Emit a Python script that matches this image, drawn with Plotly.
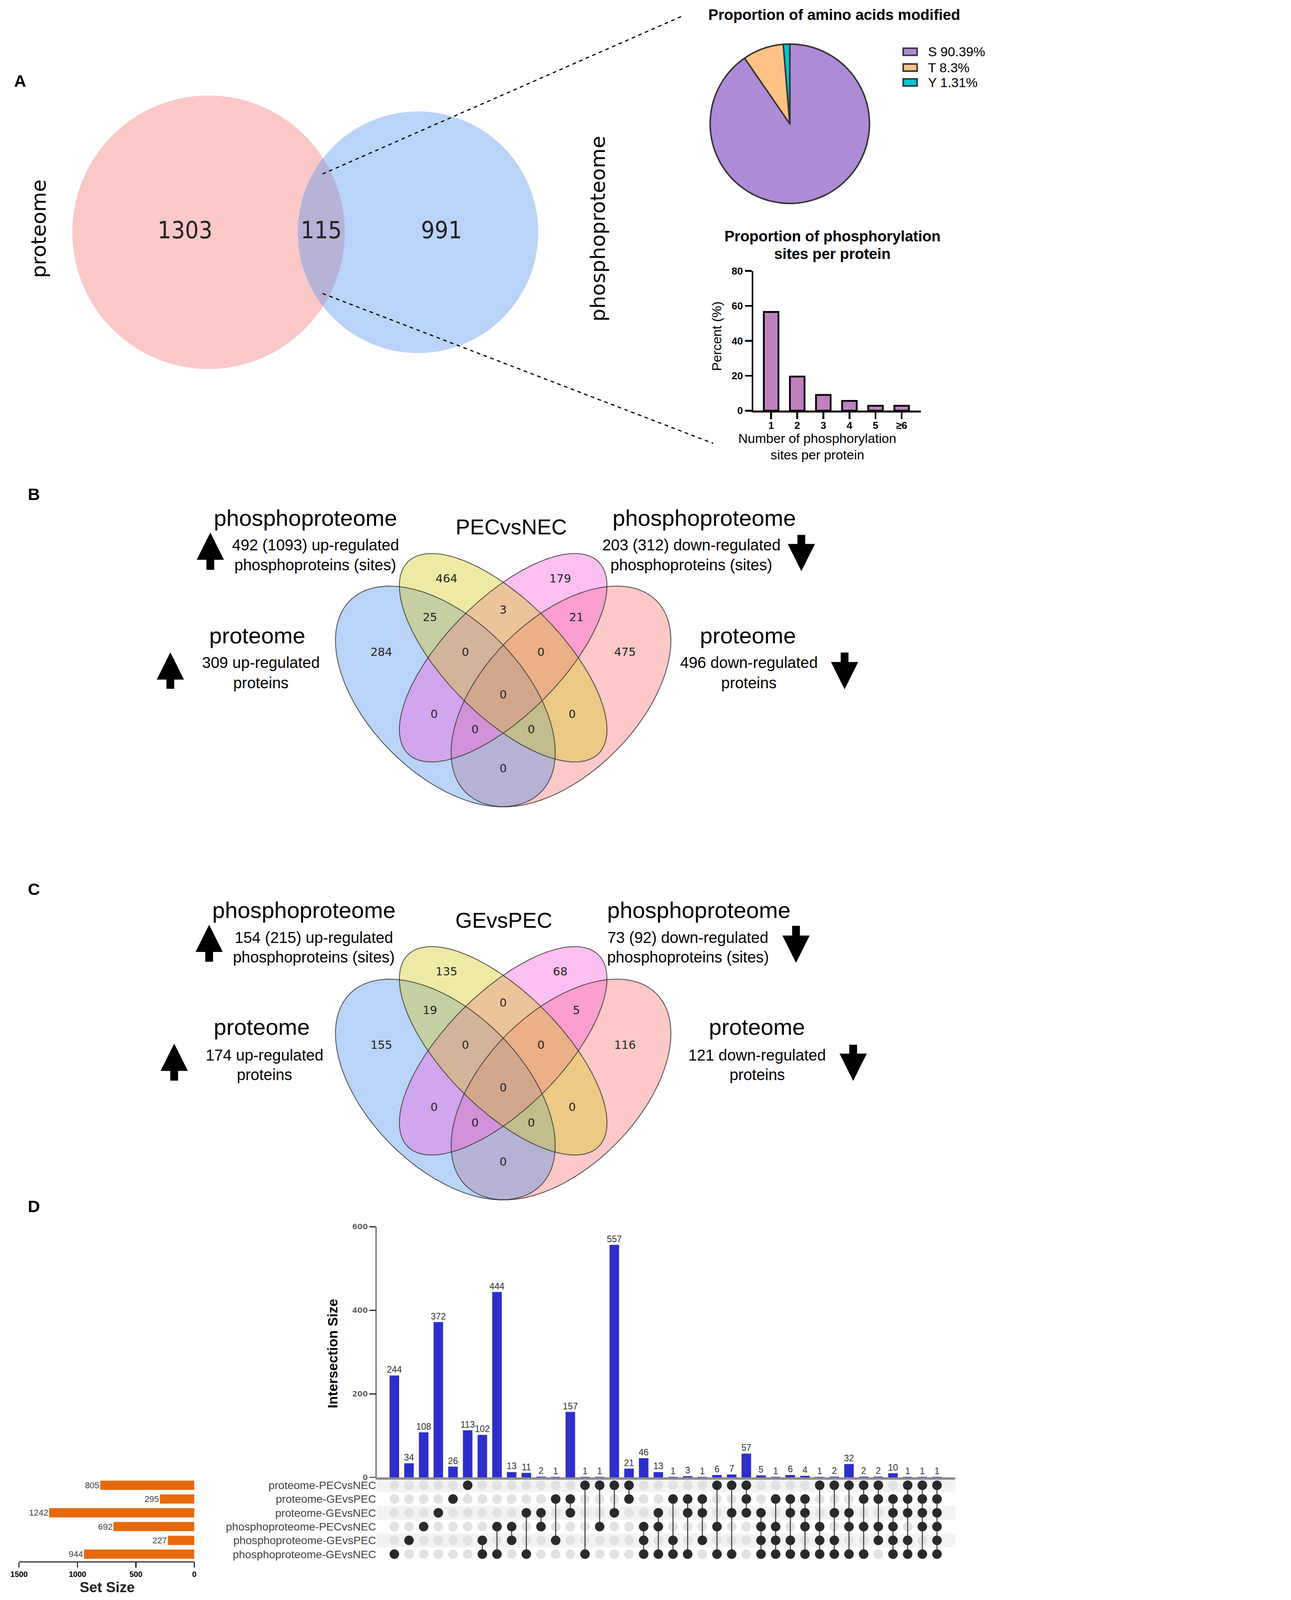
import math
import numpy as np
import plotly.graph_objects as go

W, H = 3306, 5343

# ---------------- DATA ----------------
venn_a_names = ["proteome", "phosphoproteome"]
venn_a_counts = [1303, 115, 991]          # proteome only, both, phosphoproteome only

aa_labels = ["S 90.39%", "T 8.3%", "Y 1.31%"]
aa_values = [90.39, 8.3, 1.31]
aa_colors = ["#AD8BD6", "#FFC285", "#00C6CF"]

site_bins = ["1", "2", "3", "4", "5", "≥6"]
site_percent = [56.5, 19.5, 9.0, 5.6, 2.8, 2.8]

# 4-set Venn region counts; order:
# Yonly, Ponly, Bonly, Sonly, BY, YP, PS, BYP, YPS, BYPS, BP, YS, BPS, BYS, BS
venn_b_counts = [464, 179, 284, 475, 25, 3, 21, 0, 0, 0, 0, 0, 0, 0, 0]
venn_c_counts = [135, 68, 155, 116, 19, 0, 5, 0, 0, 0, 0, 0, 0, 0, 0]
venn_b_title = "PECvsNEC"
venn_c_title = "GEvsPEC"
venn_b_notes = ["492 (1093) up-regulated", "203 (312) down-regulated",
                "309 up-regulated", "496 down-regulated"]
venn_c_notes = ["154 (215) up-regulated", "73 (92) down-regulated",
                "174 up-regulated", "121 down-regulated"]

set_names = ["proteome-PECvsNEC", "proteome-GEvsPEC", "proteome-GEvsNEC",
             "phosphoproteome-PECvsNEC", "phosphoproteome-GEvsPEC", "phosphoproteome-GEvsNEC"]
set_sizes = [805, 295, 1242, 692, 227, 944]
intersection_sizes = [244, 34, 108, 372, 26, 113, 102, 444, 13, 11, 2, 1, 157, 1, 1, 557, 21,
                      46, 13, 1, 3, 1, 6, 7, 57, 5, 1, 6, 4, 1, 2, 32, 2, 2, 10, 1, 1, 1]
intersection_members = [
    [5], [4], [3], [2], [1], [0], [4, 5], [3, 5], [3, 4], [2, 5], [2, 3], [1, 4], [1, 2],
    [0, 5], [0, 3], [0, 2], [0, 1], [3, 4, 5], [2, 3, 5], [1, 4, 5], [1, 2, 5], [1, 2, 4],
    [0, 3, 5], [0, 2, 5], [0, 1, 2], [2, 3, 4, 5], [1, 3, 4, 5], [1, 2, 4, 5], [1, 2, 3, 5],
    [0, 3, 4, 5], [0, 2, 4, 5], [0, 2, 3, 5], [0, 1, 3, 5], [0, 1, 3, 4], [1, 2, 3, 4, 5],
    [0, 1, 2, 4, 5], [0, 1, 2, 3, 5], [0, 1, 2, 3, 4, 5]]

# ---------------- helpers ----------------
SANS = "Liberation Sans, Arial, sans-serif"
DJ = "DejaVu Sans, sans-serif"


def dx(a, b):
    return [a / W, b / W]


def dy(top, bottom):
    return [1 - bottom / H, 1 - top / H]


annotations = []
shapes = []


def ann(x, y, text, size, family=SANS, color="black", weight="normal", angle=0,
        xanchor="center", yanchor="middle"):
    annotations.append(dict(x=x / W, y=1 - y / H, xref="paper", yref="paper", text=text,
                            showarrow=False, textangle=angle, xanchor=xanchor, yanchor=yanchor,
                            font=dict(family=family, size=size, color=color, weight=weight)))


def arrow(x, y_head, y_tail):
    annotations.append(dict(x=x / W, y=1 - y_head / H, xref="paper", yref="paper", text="",
                            showarrow=True, ax=0, ay=y_tail - y_head, arrowhead=2,
                            arrowwidth=26, arrowsize=0.7, arrowcolor="black"))


fig = go.Figure()

# ---------------- Panel A: two-set Venn ----------------
r1 = 460.0
n_prot = venn_a_counts[0] + venn_a_counts[1]
n_phos = venn_a_counts[2] + venn_a_counts[1]
r2 = r1 * math.sqrt(n_phos / n_prot)
target = venn_a_counts[1] / n_prot * math.pi * r1 ** 2


def lens(d):
    c1 = (d * d + r1 * r1 - r2 * r2) / (2 * d * r1)
    c2 = (d * d + r2 * r2 - r1 * r1) / (2 * d * r2)
    k = (-d + r1 + r2) * (d + r1 - r2) * (d - r1 + r2) * (d + r1 + r2)
    return r1 * r1 * math.acos(c1) + r2 * r2 * math.acos(c2) - 0.5 * math.sqrt(k)


lo, hi = r1 - r2 + 1e-6, r1 + r2 - 1e-6
for _ in range(80):
    mid = (lo + hi) / 2
    if lens(mid) > target:
        lo = mid
    else:
        hi = mid
dist = (lo + hi) / 2
c1x, cy = 675.0, 762.0
c2x = c1x + dist
t = np.linspace(0, 2 * np.pi, 300)
for cx, r, col in [(c1x, r1, "rgba(245,118,118,0.4)"), (c2x, r2, "rgba(80,148,238,0.4)")]:
    fig.add_trace(go.Scatter(x=cx + r * np.cos(t), y=cy + r * np.sin(t), mode="lines",
                             fill="toself", fillcolor=col, line=dict(width=0),
                             hoverinfo="skip", showlegend=False, xaxis="x", yaxis="y"))
lab_x = [((c1x - r1) + (c2x - r2)) / 2, ((c2x - r2) + (c1x + r1)) / 2, ((c1x + r1) + (c2x + r2)) / 2]
fig.add_trace(go.Scatter(x=lab_x, y=[cy] * 3, mode="text", text=[str(v) for v in venn_a_counts],
                         textfont=dict(family="DejaVu Sans Condensed, DejaVu Sans", size=80, color="#222"),
                         hoverinfo="skip", showlegend=False, xaxis="x", yaxis="y"))
ann(102, 750, venn_a_names[0], 68, family=DJ, angle=-90)
ann(1990, 750, venn_a_names[1], 68, family=DJ, angle=-90)

# dashed zoom lines
shapes.append(dict(type="line", xref="paper", yref="paper", x0=1060 / W, y0=1 - 566 / H,
                   x1=2277 / W, y1=1 - 34 / H, line=dict(color="black", width=4, dash="dash")))
shapes.append(dict(type="line", xref="paper", yref="paper", x0=1060 / W, y0=1 - 968 / H,
                   x1=2379 / W, y1=1 - 1472 / H, line=dict(color="black", width=4, dash="dash")))

# ---------------- Pie ----------------
fig.add_trace(go.Pie(values=aa_values, labels=aa_labels, sort=False, direction="clockwise",
                     rotation=0, textinfo="none", hoverinfo="label",
                     marker=dict(colors=aa_colors, line=dict(color="#333333", width=5)),
                     domain=dict(x=dx(2369, 2907), y=dy(128, 666)), showlegend=False))
ann(2788, 31, "Proportion of amino acids modified", 50, weight="bold")
leg_y = [155, 208, 258]
for lbl, col, yy in zip(aa_labels, aa_colors, leg_y):
    shapes.append(dict(type="rect", xref="paper", yref="paper", x0=3021 / W, x1=3068 / W,
                       y0=1 - (yy + 12) / H, y1=1 - (yy - 12) / H, fillcolor=col,
                       line=dict(color="#333333", width=5)))
    ann(3103, yy, lbl, 44, xanchor="left")

# ---------------- Bar chart: sites per protein ----------------
fig.add_trace(go.Bar(x=site_bins, y=site_percent, width=0.56,
                     marker=dict(color="#C080C0", line=dict(color="black", width=6)),
                     showlegend=False, hoverinfo="y", xaxis="x2", yaxis="y2"))
ann(2782, 776, "Proportion of phosphorylation", 50, weight="bold")
ann(2782, 835, "sites per protein", 50, weight="bold")
ann(2390, 1112, "Percent (%)", 44, angle=-90)
ann(2731, 1455, "Number of phosphorylation", 44)
ann(2731, 1510, "sites per protein", 44)

# ---------------- 4-set Venns (B, C) ----------------
ell_centers = [(0.65, 0.47), (0.35, 0.47), (0.5, 0.57), (0.5, 0.57)]   # salmon, blue, pink, yellow
ell_a = [0.35, 0.35, 0.35, 0.35]
ell_b = [0.20, 0.20, 0.15, 0.15]
ell_ang = [45, 135, 45, 135]
ell_fill = ["rgba(247,117,117,0.4)", "rgba(80,148,238,0.4)",
            "rgba(247,97,217,0.4)", "rgba(213,203,30,0.4)"]
region_pos = [(0.353, 0.772), (0.648, 0.772), (0.184, 0.582), (0.816, 0.582), (0.310, 0.672),
              (0.500, 0.691), (0.690, 0.672), (0.402, 0.582), (0.598, 0.582), (0.500, 0.472),
              (0.321, 0.422), (0.679, 0.422), (0.427, 0.382), (0.573, 0.382), (0.500, 0.281)]


def ellipse(cx, cy, a, b, ang):
    tt = np.linspace(0, 2 * np.pi, 360)
    ca, sa = math.cos(math.radians(ang)), math.sin(math.radians(ang))
    return (cx + a * np.cos(tt) * ca - b * np.sin(tt) * sa,
            cy + a * np.cos(tt) * sa + b * np.sin(tt) * ca)


def venn4(counts, xa, ya):
    for (cx, cy_), a, b, ang, col in zip(ell_centers, ell_a, ell_b, ell_ang, ell_fill):
        ex, ey = ellipse(cx, cy_, a, b, ang)
        fig.add_trace(go.Scatter(x=ex, y=ey, mode="lines", fill="toself", fillcolor=col,
                                 line=dict(width=0), hoverinfo="skip", showlegend=False,
                                 xaxis=xa, yaxis=ya))
    for (cx, cy_), a, b, ang in zip(ell_centers, ell_a, ell_b, ell_ang):
        ex, ey = ellipse(cx, cy_, a, b, ang)
        fig.add_trace(go.Scatter(x=ex, y=ey, mode="lines", line=dict(width=3, color="rgba(40,40,40,0.75)"),
                                 hoverinfo="skip", showlegend=False, xaxis=xa, yaxis=ya))
    fig.add_trace(go.Scatter(x=[p[0] for p in region_pos], y=[p[1] for p in region_pos],
                             mode="text", text=[str(v) for v in counts],
                             textfont=dict(family=DJ, size=38, color="#222"),
                             hoverinfo="skip", showlegend=False, xaxis=xa, yaxis=ya))


venn4(venn_b_counts, "x3", "y3")
venn4(venn_c_counts, "x4", "y4")

UNIT = 1302.0
VX = 1670.0
b_cy = 2193.0
c_cy = b_cy + 1322.0


def venn_dom(cy_px):
    top = cy_px - (1 - 0.57) * UNIT
    bot = cy_px + 0.57 * UNIT
    return dx(VX - 0.5 * UNIT, VX + 0.5 * UNIT), dy(top, bot)


b_dx, b_dy = venn_dom(b_cy)
c_dx, c_dy = venn_dom(c_cy)


def venn_texts(title, notes, P, arrows):
    ann(*P[0], "phosphoproteome", 76)
    ann(*P[1], notes[0], 52)
    ann(*P[2], "phosphoproteins (sites)", 52)
    ann(*P[3], title, 72)
    ann(*P[4], "phosphoproteome", 76)
    ann(*P[5], notes[1], 52)
    ann(*P[6], "phosphoproteins (sites)", 52)
    ann(*P[7], "proteome", 76)
    ann(*P[8], notes[2], 52)
    ann(*P[9], "proteins", 52)
    ann(*P[10], "proteome", 76)
    ann(*P[11], notes[3], 52)
    ann(*P[12], "proteins", 52)
    for x, yh, yt in arrows:
        arrow(x, yh, yt)


venn_texts(venn_b_title, venn_b_notes,
           [(1002, 1723), (1036, 1814), (1036, 1881), (1697, 1753), (2349, 1723), (2306, 1814),
            (2306, 1881), (840, 2118), (852, 2210), (852, 2277), (2497, 2118), (2500, 2210),
            (2500, 2277)],
           [(681, 1772, 1898), (546, 2175, 2298), (2677, 1902, 1779), (2823, 2299, 2175)])
venn_texts(venn_c_title, venn_c_notes,
           [(997, 3041), (1031, 3134), (1031, 3200), (1672, 3076), (2331, 3041), (2294, 3134),
            (2294, 3200), (855, 3434), (864, 3529), (864, 3596), (2527, 3434), (2528, 3529),
            (2528, 3596)],
           [(677, 3091, 3216), (559, 3491, 3616), (2659, 3219, 3094), (2852, 3616, 3494)])

# panel letters
for letter, (lx, ly) in zip("ABCD", [(38, 253), (85, 1643), (85, 2972), (85, 4038)]):
    ann(lx, ly, letter, 56, weight="bold")

# ---------------- Panel D: UpSet ----------------
ncol = len(intersection_sizes)
cols = list(range(ncol))
nset = len(set_names)
fig.add_trace(go.Bar(x=cols, y=intersection_sizes, width=0.65,
                     marker=dict(color="#2E2ECC", line=dict(width=0)),
                     text=[str(v) for v in intersection_sizes], textposition="outside",
                     constraintext="none", cliponaxis=False,
                     textfont=dict(family=SANS, size=30, color="#333"),
                     showlegend=False, hoverinfo="y", xaxis="x5", yaxis="y5"))

# row bands
for k in range(0, nset, 2):
    shapes.append(dict(type="rect", xref="x5 domain", yref="y6", x0=0, x1=1, y0=k - 0.5, y1=k + 0.5,
                       fillcolor="#F3F3F3", line=dict(width=0), layer="below"))

in_x, in_y, on_x, on_y = [], [], [], []
for j, mem in enumerate(intersection_members):
    for i in range(nset):
        if i in mem:
            on_x.append(j); on_y.append(i)
        else:
            in_x.append(j); in_y.append(i)
ln_x, ln_y = [], []
for j, mem in enumerate(intersection_members):
    if len(mem) > 1:
        ln_x += [j, j, None]
        ln_y += [min(mem), max(mem), None]
fig.add_trace(go.Scatter(x=in_x, y=in_y, mode="markers", marker=dict(size=32, color="#E2E2E2"),
                         hoverinfo="skip", showlegend=False, xaxis="x6", yaxis="y6"))
fig.add_trace(go.Scatter(x=ln_x, y=ln_y, mode="lines", line=dict(color="#2A2A2A", width=3),
                         hoverinfo="skip", showlegend=False, xaxis="x6", yaxis="y6"))
fig.add_trace(go.Scatter(x=on_x, y=on_y, mode="markers", marker=dict(size=32, color="#2A2A2A"),
                         hoverinfo="skip", showlegend=False, xaxis="x6", yaxis="y6"))

fig.add_trace(go.Bar(x=set_sizes, y=list(range(nset)), orientation="h", width=0.67,
                     marker=dict(color="#E8690B", line=dict(width=0)),
                     text=[str(v) for v in set_sizes], textposition="outside",
                     constraintext="none", cliponaxis=False,
                     textfont=dict(family=SANS, size=29, color="#444"),
                     showlegend=False, hoverinfo="x", xaxis="x7", yaxis="y7"))
ann(1094, 4533, "Intersection Size", 46, family="Liberation Sans Narrow, " + SANS,
    weight="bold", angle=-90)
ann(333, 5319, "Set Size", 48, weight="bold", color="#222")

hidden = dict(visible=False, showgrid=False, zeroline=False)
mat_dom_y = dy(4953, 5232)
row_range = [nset - 0.48, -0.5]

fig.update_layout(
    width=W, height=H, margin=dict(l=0, r=0, t=0, b=0, pad=0),
    paper_bgcolor="white", plot_bgcolor="white", showlegend=False,
    font=dict(family=SANS),
    xaxis=dict(domain=dx(0, 1980), range=[0, 1980], anchor="y", **hidden),
    yaxis=dict(domain=dy(150, 1300), range=[1300, 150], anchor="x", **hidden),
    xaxis2=dict(domain=dx(2515, 3080), range=[-0.68, 5.73], anchor="y2", type="category",
                showline=True, linecolor="black", linewidth=6, ticks="outside", ticklen=22,
                tickwidth=6, tickcolor="black", showgrid=False, zeroline=False,
                ticklabelstandoff=-8,
                tickfont=dict(family=SANS, size=34, color="black", weight="bold")),
    yaxis2=dict(domain=dy(892, 1362), range=[0, 80], anchor="x2", tickvals=[0, 20, 40, 60, 80],
                showline=True, linecolor="black", linewidth=6, ticks="outside", ticklen=22,
                tickwidth=6, tickcolor="black", showgrid=False, zeroline=False,
                tickfont=dict(family=SANS, size=34, color="black", weight="bold")),
    xaxis3=dict(domain=b_dx, range=[0, 1], anchor="y3", **hidden),
    yaxis3=dict(domain=b_dy, range=[0, 1], anchor="x3", **hidden),
    xaxis4=dict(domain=c_dx, range=[0, 1], anchor="y4", **hidden),
    yaxis4=dict(domain=c_dy, range=[0, 1], anchor="x4", **hidden),
    xaxis5=dict(domain=dx(1242, 3197), range=[-1.22, ncol + 0.25], anchor="y5",
                showline=True, linecolor="#8C8C8C", linewidth=8, showticklabels=False,
                ticks="", showgrid=False, zeroline=False),
    yaxis5=dict(domain=dy(4107, 4950), range=[0, 600], anchor="x5", tickvals=[0, 200, 400, 600],
                showline=True, linecolor="#222", linewidth=3, ticks="outside", ticklen=21,
                tickwidth=3, tickcolor="#222", showgrid=False, zeroline=False,
                tickfont=dict(family=DJ, size=25, color="#666", weight="bold")),
    xaxis6=dict(domain=dx(1242, 3197), range=[-1.22, ncol + 0.25], anchor="y6", **hidden),
    yaxis6=dict(domain=mat_dom_y, range=row_range, anchor="x6", tickvals=list(range(nset)),
                ticktext=set_names, showline=False, ticks="", showgrid=False, zeroline=False,
                tickfont=dict(family=SANS, size=37, color="#444")),
    xaxis7=dict(domain=dx(35, 627), range=[1500, 0], anchor="y7", tickvals=[0, 500, 1000, 1500],
                showline=True, linecolor="#333", linewidth=4, ticks="outside", ticklen=17,
                tickwidth=4, tickcolor="#333", showgrid=False, zeroline=False,
                tickfont=dict(family=SANS, size=26, color="black", weight="bold")),
    yaxis7=dict(domain=mat_dom_y, range=row_range, anchor="x7", **hidden),
    annotations=annotations, shapes=shapes,
)

fit_js = """
(function(){
  var gd = document.getElementById('{plot_id}');
  document.body.style.margin = '0';
  function fit(){
    var w = window.innerWidth, h = window.innerHeight;
    if (!w || !h || w < 300 || h < 300) { gd.style.transform = ''; return; }
    var s = Math.min(w / 3306, h / 5343);
    if (s < 0.999) { gd.style.transformOrigin = '0 0'; gd.style.transform = 'scale(' + s + ')'; }
    else { gd.style.transform = ''; }
  }
  fit();
  window.addEventListener('resize', fit);
})();
"""

fig.write_html("out.html", post_script=fit_js, config={"displayModeBar": False})
